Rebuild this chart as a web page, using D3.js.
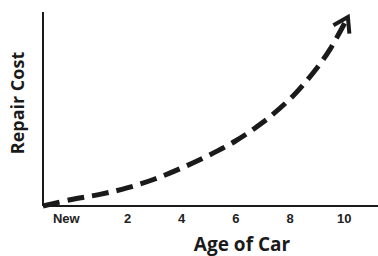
<!DOCTYPE html>
<html>
<head>
<meta charset="utf-8">
<script src="https://cdn.jsdelivr.net/npm/d3@7"></script>
<style>
  body { margin: 0; background: #fff; }
  svg { display: block; font-family: "Open Sans", "Noto Sans", sans-serif; }
</style>
</head>
<body>
<script>
// ages (years) and relative repair cost
const ages  = [-1.1, 0, 1, 2, 3, 4, 5, 6, 7, 8, 8.5, 9, 9.5, 10.15];
const costs = [0, 3.5, 6, 9.3, 13.8, 19.5, 26, 33.5, 43, 55, 62.5, 71, 81, 97.4];
const tickValues = [0, 2, 4, 6, 8, 10];
const tickLabels = ["New", "2", "4", "6", "8", "10"];

const width = 378, height = 256;

const x = d3.scaleLinear().domain([-1.1, 11.26]).range([43, 378]);
const y = d3.scaleLinear().domain([0, 100]).range([206, 12]);

const svg = d3.select("body").append("svg")
    .attr("width", width)
    .attr("height", height);

// arrow head
svg.append("defs").append("marker")
    .attr("id", "head")
    .attr("viewBox", "-16 -12 20 24")
    .attr("refX", 0).attr("refY", 0)
    .attr("markerWidth", 20).attr("markerHeight", 24)
    .attr("markerUnits", "userSpaceOnUse")
    .attr("orient", "auto")
  .append("path")
    .attr("d", "M-14,-9 L0,0 L-14,9")
    .attr("fill", "none")
    .attr("stroke", "#1a1a1a")
    .attr("stroke-width", 4);

// axes lines
svg.append("line")
    .attr("x1", 43).attr("x2", 43)
    .attr("y1", y(100) ).attr("y2", y(0))
    .attr("stroke", "#1a1a1a").attr("stroke-width", 2);

svg.append("line")
    .attr("x1", 43).attr("x2", width)
    .attr("y1", y(0)).attr("y2", y(0))
    .attr("stroke", "#1a1a1a").attr("stroke-width", 2);

// tick labels
const xAxis = d3.axisBottom(x)
    .tickValues(tickValues)
    .tickSize(0)
    .tickPadding(8)
    .tickFormat((d, i) => tickLabels[i]);

const gx = svg.append("g")
    .attr("transform", "translate(0," + y(0) + ")")
    .call(xAxis);
gx.select(".domain").remove();
gx.selectAll("text")
    .attr("font-size", 13)
    .attr("font-weight", "bold")
    .attr("fill", "#222")
    .attr("dx", (d, i) => i == 0 ? -7 : 0);

// axis titles
svg.append("text")
    .attr("x", 242).attr("y", 251)
    .attr("text-anchor", "middle")
    .attr("font-size", 19)
    .attr("font-weight", "bold")
    .attr("fill", "#1a1a1a")
    .text("Age of Car");

svg.append("text")
    .attr("transform", "translate(24,103) rotate(-90)")
    .attr("text-anchor", "middle")
    .attr("font-size", 18)
    .attr("font-weight", "bold")
    .attr("fill", "#1a1a1a")
    .text("Repair Cost");

// the dashed curve
const line = d3.line()
    .x((d, i) => x(ages[i]))
    .y(d => y(d))
    .curve(d3.curveCatmullRom);

svg.append("path")
    .datum(costs)
    .attr("d", line)
    .attr("fill", "none")
    .attr("stroke", "#1a1a1a")
    .attr("stroke-width", 5)
    .attr("stroke-dasharray", "17,8")
    .attr("marker-end", "url(#head)");
</script>
</body>
</html>
